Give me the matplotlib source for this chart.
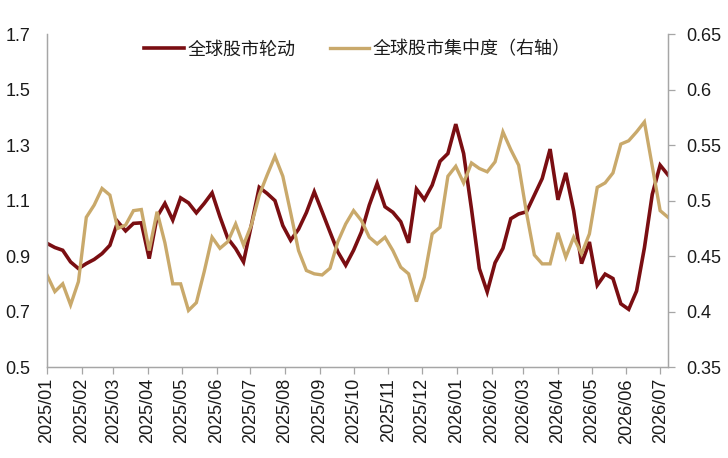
import matplotlib
matplotlib.use("Agg")
import matplotlib.pyplot as plt
import matplotlib.ticker as mticker
import pandas as pd

# ---- data ----
start_date = "2025-01-03"
n_weeks = 80
rotation_vals = [
    0.946, 0.931, 0.921, 0.879, 0.855, 0.873, 0.888, 0.909, 0.939, 1.024,
    0.991, 1.018, 1.020, 0.891, 1.042, 1.090, 1.030, 1.110, 1.092, 1.056,
    1.090, 1.128, 1.042, 0.964, 0.927, 0.879, 1.012, 1.148, 1.126, 1.100,
    1.010, 0.957, 0.997, 1.057, 1.132, 1.060, 0.987, 0.915, 0.867, 0.921,
    0.987, 1.084, 1.162, 1.078, 1.058, 1.024, 0.948, 1.142, 1.104, 1.156,
    1.242, 1.270, 1.376, 1.270, 1.070, 0.855, 0.771, 0.876, 0.928, 1.035,
    1.052, 1.060, 1.120, 1.180, 1.286, 1.103, 1.200, 1.063, 0.873, 0.951,
    0.795, 0.835, 0.819, 0.728, 0.708, 0.774, 0.930, 1.123, 1.228, 1.193,
]
concentration_vals = [
    0.433, 0.418, 0.425, 0.406, 0.427, 0.485, 0.496, 0.511, 0.505, 0.475,
    0.478, 0.491, 0.492, 0.455, 0.490, 0.462, 0.425, 0.425, 0.401, 0.408,
    0.436, 0.467, 0.457, 0.463, 0.479, 0.460, 0.478, 0.505, 0.523, 0.540,
    0.522, 0.489, 0.455, 0.437, 0.434, 0.433, 0.439, 0.463, 0.479, 0.491,
    0.482, 0.467, 0.461, 0.467, 0.455, 0.440, 0.434, 0.409, 0.431, 0.470,
    0.476, 0.522, 0.531, 0.516, 0.534, 0.529, 0.526, 0.535, 0.562, 0.546,
    0.532, 0.489, 0.451, 0.443, 0.443, 0.471, 0.449, 0.467, 0.452, 0.470,
    0.512, 0.516, 0.525, 0.551, 0.554, 0.562, 0.571, 0.531, 0.491, 0.485,
]
x_tick_labels = ["2025/01", "2025/02", "2025/03", "2025/04", "2025/05", "2025/06",
                 "2025/07", "2025/08", "2025/09", "2025/10", "2025/11", "2025/12",
                 "2026/01", "2026/02", "2026/03", "2026/04", "2026/05", "2026/06",
                 "2026/07"]
left_ticks = [0.5, 0.7, 0.9, 1.1, 1.3, 1.5, 1.7]
right_ticks = [0.35, 0.40, 0.45, 0.50, 0.55, 0.60, 0.65]
series_names = ["全球股市轮动", "全球股市集中度（右轴）"]

# ---- styling ----
RED = "#7A0E12"
GOLD = "#C9A96B"
SPINE = "#A6A6A6"
TXT = "#1A1A1A"
NUM_FONT = ["Liberation Sans", "DejaVu Sans"]
CJK_FONT = ["Noto Sans CJK SC", "DejaVu Sans"]

dates = pd.date_range(start_date, periods=n_weeks, freq="7D")
tick_pos = pd.to_datetime([s + "/03" for s in x_tick_labels], format="%Y/%m/%d")

fig = plt.figure(figsize=(7.28, 4.58), dpi=100)
ax = fig.add_axes([47 / 728, 1 - 367 / 458, (668 - 47) / 728, (367 - 34.3) / 458])
ax2 = ax.twinx()

l1, = ax.plot(dates, rotation_vals, color=RED, lw=2.6, solid_joinstyle="miter",
              label=series_names[0])
l2, = ax2.plot(dates, concentration_vals, color=GOLD, lw=2.4, solid_joinstyle="miter",
               label=series_names[1])

ax.set_xlim(dates[0], dates[-1])
ax.set_ylim(0.5, 1.7)
ax2.set_ylim(0.35, 0.65)

ax.set_yticks(left_ticks)
ax.yaxis.set_major_formatter(mticker.FuncFormatter(lambda v, p: f"{v:.1f}"))
ax2.set_yticks(right_ticks)
ax2.yaxis.set_major_formatter(mticker.FuncFormatter(lambda v, p: f"{v:g}"))

ax.set_xticks(tick_pos)
ax.set_xticklabels(x_tick_labels, rotation=90)

for a in (ax, ax2):
    for side in ("top",):
        a.spines[side].set_visible(False)
    for side in ("left", "right", "bottom"):
        a.spines[side].set_color(SPINE)
        a.spines[side].set_linewidth(0.9)

ax.tick_params(axis="y", length=0, pad=12, labelsize=13, labelcolor=TXT)
ax.tick_params(axis="x", length=5, width=0.9, color=SPINE, pad=3,
               labelsize=13, labelcolor=TXT)
ax2.tick_params(axis="y", length=5, width=0.9, color=SPINE, pad=8,
                labelsize=13, labelcolor=TXT)
for lab in ax.get_xticklabels() + ax.get_yticklabels() + ax2.get_yticklabels():
    lab.set_fontfamily(NUM_FONT)

leg = ax2.legend(handles=[l1, l2], loc="upper center", bbox_to_anchor=(0.5, 1.03),
                 ncol=2, frameon=False, handlelength=2.2, handletextpad=0.2,
                 columnspacing=1.9, prop={"family": CJK_FONT, "size": 13})
for t in leg.get_texts():
    t.set_color(TXT)

fig.savefig("out.png", dpi=100)
